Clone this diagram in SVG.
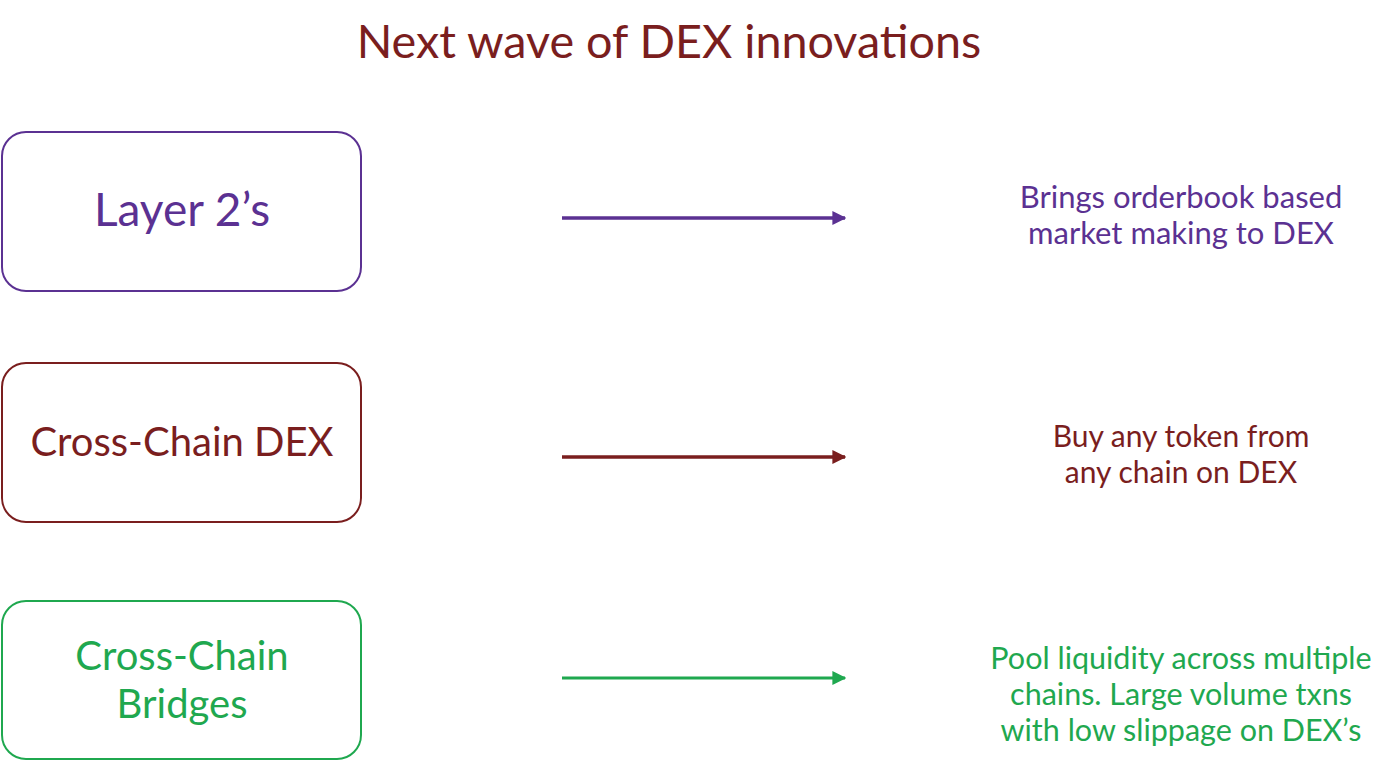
<svg xmlns="http://www.w3.org/2000/svg" width="1400" height="768" viewBox="0 0 1400 768">
<style>
text{font-family:"Lato","Noto Sans","Liberation Sans",sans-serif;text-anchor:middle}
.box{fill:#fff;stroke-width:2}
.lbl{font-size:40px}
.desc{font-size:30px}
.big{font-size:46px}
.pd{font-size:31px}
.gd{font-size:30.5px}
</style>
<defs>
<marker id="ap" viewBox="0 0 10 10" refX="9" refY="5" markerWidth="4" markerHeight="4" orient="auto"><path d="M0,0L10,5L0,10z" fill="#5b3192"/></marker>
<marker id="ar" viewBox="0 0 10 10" refX="9" refY="5" markerWidth="4" markerHeight="4" orient="auto"><path d="M0,0L10,5L0,10z" fill="#7a1e1e"/></marker>
<marker id="ag" viewBox="0 0 10 10" refX="9" refY="5" markerWidth="5" markerHeight="5" orient="auto"><path d="M0,0L10,5L0,10z" fill="#1fa84f"/></marker>
</defs>
<rect width="1400" height="768" fill="#fff"/>
<text x="669" y="58" font-size="46.7" fill="#7a1e1e">Next wave of DEX innovations</text>
<g id="n1"><rect class="box" x="2" y="132" width="359" height="159" rx="24" stroke="#5b3192"/><text class="big" x="182" y="226" fill="#5b3192">Layer 2’s</text></g>
<g id="n2"><rect class="box" x="2" y="363" width="359" height="159" rx="24" stroke="#7a1e1e"/><text class="lbl" x="182" y="456" fill="#7a1e1e">Cross-Chain DEX</text></g>
<g id="n3"><rect class="box" x="2" y="601" width="359" height="158" rx="24" stroke="#1fa84f"/><text class="lbl" x="182" y="670" fill="#1fa84f">Cross-Chain</text><text class="lbl" x="182" y="718" fill="#1fa84f">Bridges</text></g>
<g id="d1"><text class="pd" x="1181" y="208" fill="#5b3192">Brings orderbook based</text><text class="pd" x="1181" y="244" fill="#5b3192">market making to DEX</text></g>
<g id="d2"><text class="desc" x="1181" y="447" fill="#7a1e1e">Buy any token from</text><text class="desc" x="1181" y="483" fill="#7a1e1e">any chain on DEX</text></g>
<g id="d3"><text class="gd" x="1181" y="669" fill="#1fa84f">Pool liquidity across multiple</text><text class="gd" x="1181" y="705" fill="#1fa84f">chains. Large volume txns</text><text class="gd" x="1181" y="741" fill="#1fa84f">with low slippage on DEX’s</text></g>
<g id="connectors" fill="none">
<line x1="562" y1="218" x2="845" y2="218" stroke="#5b3192" stroke-width="3.5" marker-end="url(#ap)"/>
<line x1="562" y1="457" x2="845" y2="457" stroke="#7a1e1e" stroke-width="3.5" marker-end="url(#ar)"/>
<line x1="562" y1="678" x2="845" y2="678" stroke="#1fa84f" stroke-width="2.8" marker-end="url(#ag)"/>
</g>
</svg>
